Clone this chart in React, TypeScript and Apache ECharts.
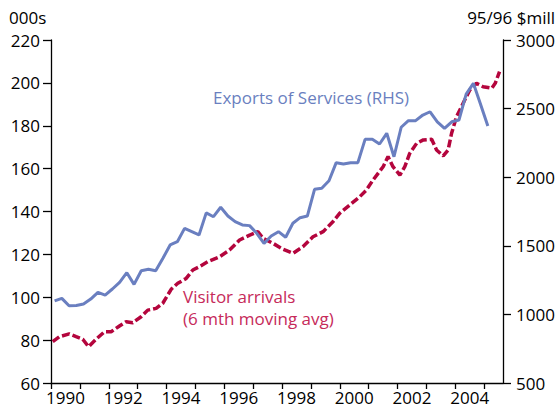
import { useEffect, useRef } from 'react';
import * as echarts from 'echarts';

// Exports of Services (RHS, 95/96 $mill), quarterly from 1990 Q1
const exportsStartYear = 1990;
const exportsValues = [
  1098, 1117, 1063, 1065, 1076, 1112, 1161, 1141, 1185, 1234, 1304, 1219,
  1318, 1329, 1318, 1409, 1506, 1530, 1627, 1603, 1579, 1740, 1712, 1781,
  1717, 1676, 1652, 1647, 1591, 1518, 1571, 1603, 1562, 1664, 1705, 1717,
  1912, 1919, 1974, 2106, 2096, 2106, 2106, 2276, 2276, 2242, 2320, 2149,
  2364, 2412, 2412, 2453, 2477, 2404, 2356, 2404, 2417, 2606, 2684, 2530,
  2373,
];

// Visitor arrivals (LHS, 000s, 6 mth moving avg)
const visitorYears = [
  1990.06, 1990.29, 1990.63, 1990.87, 1991.1, 1991.3, 1991.56, 1991.85,
  1992.08, 1992.37, 1992.6, 1992.83, 1993.12, 1993.35, 1993.64, 1993.87,
  1994.16, 1994.39, 1994.68, 1994.91, 1995.14, 1995.43, 1995.84, 1996.18,
  1996.53, 1996.88, 1997.16, 1997.34, 1997.68, 1998.03, 1998.38, 1998.72,
  1999.07, 1999.42, 1999.76, 2000.0, 2000.34, 2000.69, 2000.92, 2001.15,
  2001.5, 2001.67, 2001.84, 2002.08, 2002.25, 2002.42, 2002.66, 2002.89,
  2003.18, 2003.35, 2003.58, 2003.75, 2003.87, 2004.04, 2004.27, 2004.5,
  2004.73, 2004.96, 2005.26, 2005.38, 2005.53,
];
const visitorValues = [
  79.3, 81.6, 82.9, 81.6, 80.4, 76.9, 80.4, 83.9,
  83.9, 86.6, 88.6, 88.1, 90.9, 94.0, 94.8, 97.2,
  103.7, 106.5, 108.8, 112.7, 114.3, 116.6, 118.9, 122.0,
  126.7, 129.0, 130.6, 127.5, 125.2, 122.4, 120.5, 123.6,
  128.2, 130.6, 135.2, 139.2, 143.0, 146.9, 150.0, 154.7,
  160.9, 165.6, 160.9, 157.0, 160.9, 167.1, 171.8, 173.4,
  173.7, 168.7, 165.9, 168.7, 176.5, 184.2, 190.5, 196.7,
  199.8, 198.2, 197.5, 199.8, 205.2,
];

const yearTicks = [1990, 1991, 1992, 1993, 1994, 1995, 1996, 1997, 1998, 1999, 2000, 2001, 2002, 2003, 2004, 2005];
const yearLabels = [1990, 1992, 1994, 1996, 1998, 2000, 2002, 2004];

const FONT = '"Open Sans", sans-serif';
const BLUE = '#6a7fc0';
const RED = '#b4053d';

export default function App() {
  const ref = useRef<HTMLDivElement>(null);
  useEffect(() => {
    document.body.style.margin = '0';
    const chart = echarts.init(ref.current!, undefined, { renderer: 'svg' });
    const exportsData = exportsValues.map((v, i) => [exportsStartYear + (i + 0.5) / 4, v]);
    const visitorData = visitorYears.map((y, i) => [y, visitorValues[i]]);
    chart.setOption({
      animation: false,
      textStyle: { fontFamily: FONT },
      grid: { left: 51, right: 56, top: 40, bottom: 27, containLabel: false },
      xAxis: {
        type: 'value',
        min: 1990,
        max: 2005.65,
        axisLine: { lineStyle: { color: '#000', width: 1.3 } },
        axisTick: { show: true, customValues: yearTicks, length: 6, lineStyle: { color: '#000', width: 1.3 } },
        axisLabel: {
          customValues: yearLabels.map((y) => y + 0.5),
          formatter: (v: number) => String(Math.floor(v)),
          color: '#000',
          fontSize: 17,
          fontFamily: FONT,
          margin: 6,
        },
        splitLine: { show: false },
      },
      yAxis: [
        {
          type: 'value',
          position: 'left',
          min: 60,
          max: 220,
          interval: 20,
          axisLine: { show: true, lineStyle: { color: '#000', width: 1.3 } },
          axisTick: { show: true, length: 8, lineStyle: { color: '#000', width: 1.3 } },
          axisLabel: { color: '#000', fontSize: 17, fontFamily: FONT, margin: 11, formatter: (v: number) => String(v) },
          splitLine: { show: false },
        },
        {
          type: 'value',
          position: 'right',
          min: 500,
          max: 3000,
          interval: 500,
          axisLine: { show: true, lineStyle: { color: '#000', width: 1.3 } },
          axisTick: { show: true, length: 8, lineStyle: { color: '#000', width: 1.3 } },
          axisLabel: { color: '#000', fontSize: 17, fontFamily: FONT, margin: 13, formatter: (v: number) => String(v) },
          splitLine: { show: false },
        },
      ],
      series: [
        {
          name: 'Visitor arrivals',
          type: 'line',
          yAxisIndex: 0,
          data: visitorData,
          showSymbol: false,
          lineStyle: { color: RED, width: 3.5, type: [8, 3] },
        },
        {
          name: 'Exports of Services (RHS)',
          type: 'line',
          yAxisIndex: 1,
          data: exportsData,
          showSymbol: false,
          lineStyle: { color: BLUE, width: 3 },
        },
      ],
      graphic: [
        { type: 'text', left: 9, top: 9, style: { text: '000s', fontSize: 17, fontFamily: FONT, fill: '#000' } },
        { type: 'text', right: 4, top: 9, style: { text: '95/96 $mill', fontSize: 17, fontFamily: FONT, fill: '#000' } },
        { type: 'text', left: 213, top: 89, style: { text: 'Exports of Services (RHS)', fontSize: 17, fontFamily: FONT, fill: BLUE } },
        { type: 'text', left: 183, top: 288, style: { text: 'Visitor arrivals', fontSize: 17, fontFamily: FONT, fill: '#c62a5a' } },
        { type: 'text', left: 183, top: 310, style: { text: '(6 mth moving avg)', fontSize: 17, fontFamily: FONT, fill: '#c62a5a' } },
      ],
    });
    return () => chart.dispose();
  }, []);
  return <div ref={ref} style={{ width: 559, height: 410 }} />;
}
